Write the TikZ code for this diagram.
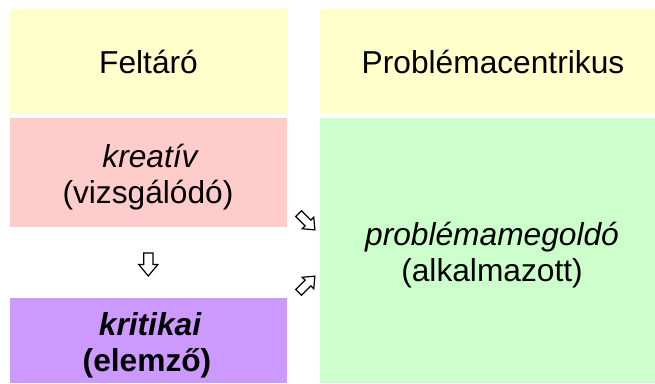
\documentclass[tikz,border=0pt]{standalone}
\usepackage{fontspec}
\setmainfont{Liberation Sans}
\usetikzlibrary{shapes.arrows}
\definecolor{boxyellow}{HTML}{FFFFCC}
\definecolor{boxpink}{HTML}{FFCCCC}
\definecolor{boxgreen}{HTML}{CCFFCC}
\definecolor{boxpurple}{HTML}{CC99FF}
\tikzset{
  panel/.style={draw=none, fill=#1, inner sep=0pt, outer sep=0pt},
  label text/.style={inner sep=0pt, anchor=base, font=\fontsize{31.7}{36}\selectfont},
  block arrow/.style={single arrow, draw=black, fill=white, line width=1.2pt,
    inner xsep=0pt, single arrow tip angle=80},
}
\begin{document}
\begin{tikzpicture}[x=1pt, y=-1pt]
  \useasboundingbox (0,0) rectangle (655,383);

  % coloured panels
  \node[panel=boxyellow, minimum width=277pt, minimum height=105pt] (explore) at (148.5,61.5) {};
  \node[panel=boxyellow, minimum width=335pt, minimum height=105pt] (problem) at (487.5,61.5) {};
  \node[panel=boxpink,   minimum width=277pt, minimum height=109pt] (creative) at (148.5,172.5) {};
  \node[panel=boxpurple, minimum width=277pt, minimum height=85pt]  (critical) at (148.5,340.5) {};
  \node[panel=boxgreen,  minimum width=335pt, minimum height=265pt] (solving) at (487.5,250.5) {};

  % texts
  \node[label text] (t-explore) at (148.5,73) {Feltáró};
  \node[label text] (t-problem) at (493,73) {Problémacentrikus};
  \node[label text] (t-creative1) at (150,167) {\itshape kreatív};
  \node[label text] (t-creative2) at (148,203) {(vizsgálódó)};
  \node[label text] (t-critical1) at (150,335) {\bfseries\itshape kritikai};
  \node[label text] (t-critical2) at (147,371.5) {\bfseries (elemző)};
  \node[label text] (t-solving1) at (492,245) {\itshape problémamegoldó};
  \node[label text] (t-solving2) at (492,281) {(alkalmazott)};

  % outline block arrows between the panels
  \node[block arrow, minimum height=23pt, inner ysep=4pt,
        single arrow head extend=5pt, rotate=-90] (down) at (148.3,261.7) {};
  \node[block arrow, minimum height=23pt, inner ysep=3.5pt,
        single arrow head extend=4pt, rotate=-45] (toright) at (305,220) {};
  \node[block arrow, minimum height=23pt, inner ysep=3.5pt,
        single arrow head extend=4pt, rotate=45] (fromright) at (305,286) {};
\end{tikzpicture}
\end{document}
